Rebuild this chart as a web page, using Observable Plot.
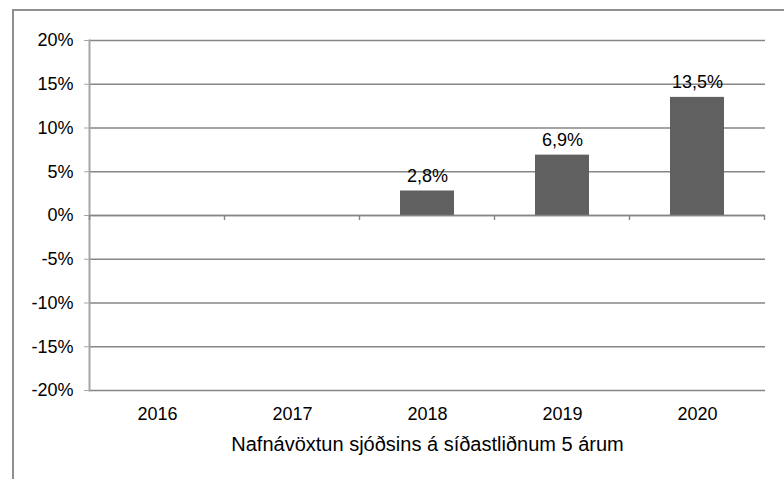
<!DOCTYPE html>
<html>
<head>
<meta charset="utf-8">
<script src="https://cdn.jsdelivr.net/npm/d3@7"></script>
<script src="https://cdn.jsdelivr.net/npm/@observablehq/plot@0.6"></script>
<style>
  html, body { margin: 0; padding: 0; background: #fff; }
  #wrap { position: relative; width: 784px; height: 479px; overflow: hidden; }
  #border { position: absolute; left: 12px; top: 9px; width: 800px; height: 500px;
            border-left: 2px solid #8f8f8f; border-top: 2px solid #8f8f8f; box-sizing: border-box; }
  #chart { position: absolute; left: 0; top: 0; }
</style>
</head>
<body>
<div id="wrap"><div id="border"></div><div id="chart"></div></div>
<script>
const years = ["2016", "2017", "2018", "2019", "2020"];
const returns = [null, null, 2.8, 6.9, 13.5];
const yTicks = [-20, -15, -10, -5, 0, 5, 10, 15, 20];
const axisTitle = "Nafnávöxtun sjóðsins á síðastliðnum 5 árum";

const data = years.map((y, i) => ({year: y, value: returns[i]})).filter(d => d.value != null);
const fmt = v => v.toFixed(1).replace(".", ",") + "%";
const font = "Liberation Sans, Arial, sans-serif";

const plot = Plot.plot({
  width: 784,
  height: 479,
  marginLeft: 89,
  marginRight: 19,
  marginTop: 40,
  marginBottom: 89,
  style: {fontFamily: font, fontSize: "18px", color: "#000", background: "transparent"},
  x: {domain: years, paddingInner: 0.6, paddingOuter: 0.3, label: null},
  y: {domain: [-20, 20], label: null},
  marks: [
    Plot.ruleY(yTicks, {stroke: "#868686", strokeWidth: 1.4}),
    Plot.barY(data, {x: "year", y: "value", fill: "#606060"}),
    Plot.text(data, {x: "year", y: "value", text: d => fmt(d.value), lineAnchor: "bottom", dy: -9, fontSize: 18, fill: "#000"}),
    Plot.ruleY([0], {stroke: "#868686", strokeWidth: 1.4}),
    Plot.frame({anchor: "left", stroke: "#a6a6a6", strokeWidth: 2}),
    Plot.axisY({ticks: yTicks, tickFormat: d => d + "%", tickSize: 5, tickPadding: 11, stroke: "#a6a6a6", fontSize: 18, label: null}),
    Plot.axisX({tickSize: 0, tickPadding: 17, fontSize: 18, label: null}),
    Plot.text([axisTitle], {frameAnchor: "bottom", text: d => d, lineAnchor: "bottom", dy: 60, fontSize: 20, fill: "#000"})
  ]
});

// small ticks at the category boundaries on the zero line
const xs = plot.scale("x");
const ys = plot.scale("y");
const step = xs.step, bw = xs.bandwidth;
const y0 = ys.apply(0);
const bounds = years.map(c => xs.apply(c) - (step - bw) / 2);
bounds.push(xs.apply(years[years.length - 1]) + bw + (step - bw) / 2);
const g = d3.select(plot).append("g").attr("stroke", "#868686").attr("stroke-width", 1.4);
bounds.forEach(bx => g.append("line").attr("x1", bx).attr("x2", bx).attr("y1", y0).attr("y2", y0 + 5));

document.getElementById("chart").appendChild(plot);
</script>
</body>
</html>
